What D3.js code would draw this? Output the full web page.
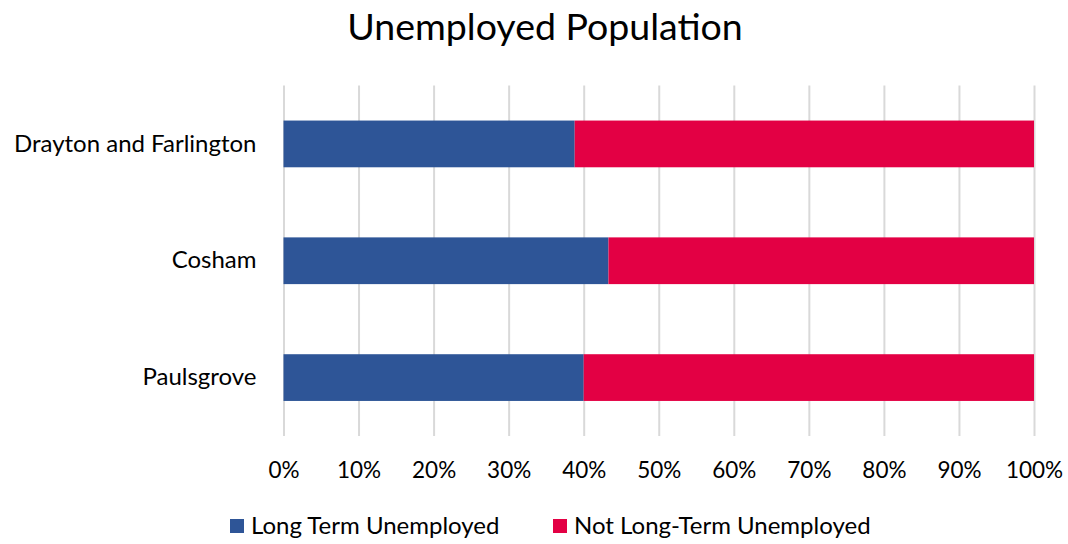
<!DOCTYPE html>
<html>
<head>
<meta charset="utf-8">
<script src="https://cdn.jsdelivr.net/npm/d3@7"></script>
<style>
  body { margin: 0; background: #fff; }
  svg { display: block; font-family: Lato, "Open Sans", sans-serif; }
  .grid line { stroke: #d9d9d9; stroke-width: 2; }
  .grid path { display: none; }
  .tick-label text { fill: #000; }
</style>
</head>
<body>
<div id="chart"></div>
<script>
// data
const categories = ['Drayton and Farlington', 'Cosham', 'Paulsgrove'];
const longTerm = [0.388, 0.433, 0.400];
const notLongTerm = [0.612, 0.567, 0.600];
const seriesNames = ['Long Term Unemployed', 'Not Long-Term Unemployed'];
const seriesColors = ['#2e5597', '#e30044'];
const ticks = [0, 0.1, 0.2, 0.3, 0.4, 0.5, 0.6, 0.7, 0.8, 0.9, 1];

const width = 1068, height = 544;
const margin = {t: 85.5, r: 34, b: 108, l: 283.5};
const w = width - margin.l - margin.r;
const h = height - margin.t - margin.b;

const svg = d3.select('#chart').append('svg')
    .attr('width', width)
    .attr('height', height);

// title
svg.append('text')
    .attr('x', 545)
    .attr('y', 40)
    .attr('text-anchor', 'middle')
    .style('font-size', '37.5px')
    .text('Unemployed Population');

const plot = svg.append('g')
    .attr('transform', `translate(${margin.l},${margin.t})`);

// scales
const scaleX = d3.scaleLinear().domain([0, 1]).range([0, w]);
const scaleY = d3.scaleBand()
    .domain(categories)
    .range([0, h])
    .paddingInner(0.6)
    .paddingOuter(0.3);

// gridlines
const grid = plot.append('g')
    .attr('class', 'grid')
    .attr('transform', `translate(0,${h})`)
    .call(d3.axisBottom(scaleX).tickValues(ticks).tickSize(h).tickFormat(''));
grid.selectAll('line').attr('y2', -h);

// x tick labels
plot.append('g')
    .attr('class', 'tick-label')
    .attr('transform', `translate(0,${h})`)
    .call(d3.axisBottom(scaleX).tickValues(ticks).tickSize(0).tickPadding(26).tickFormat(d3.format('.0%')))
    .call(g => g.select('.domain').remove())
    .selectAll('text')
    .style('font-size', '22.5px')
    .style('font-family', 'Lato, sans-serif');

// y labels
plot.append('g')
    .attr('transform', `translate(-27,0)`)
    .call(d3.axisLeft(scaleY).tickSize(0).tickPadding(0))
    .call(g => g.select('.domain').remove())
    .selectAll('text')
    .attr('fill', '#000')
    .style('font-size', '24px')
    .style('font-family', 'Lato, sans-serif');

// stacked bars
const rows = categories.map((c, i) => ({cat: c, vals: [longTerm[i], notLongTerm[i]]}));
const stacked = d3.stack().keys([0, 1]).value((d, k) => d.vals[k])(rows);

plot.selectAll('.series')
    .data(stacked)
    .enter()
    .append('g')
    .attr('class', 'series')
    .attr('fill', (d, i) => seriesColors[i])
    .selectAll('rect')
    .data(d => d)
    .enter()
    .append('rect')
    .attr('x', d => scaleX(d[0]))
    .attr('y', d => scaleY(d.data.cat))
    .attr('width', d => scaleX(d[1]) - scaleX(d[0]))
    .attr('height', scaleY.bandwidth());

// legend
const legendX = [230, 553];
const legend = svg.selectAll('.legend')
    .data(seriesNames)
    .enter()
    .append('g')
    .attr('class', 'legend')
    .attr('transform', (d, i) => `translate(${legendX[i]},519)`);
legend.append('rect')
    .attr('width', 14)
    .attr('height', 14)
    .attr('fill', (d, i) => seriesColors[i]);
legend.append('text')
    .attr('x', 21)
    .attr('y', 15)
    .style('font-size', '24px')
    .text(d => d);
</script>
</body>
</html>
